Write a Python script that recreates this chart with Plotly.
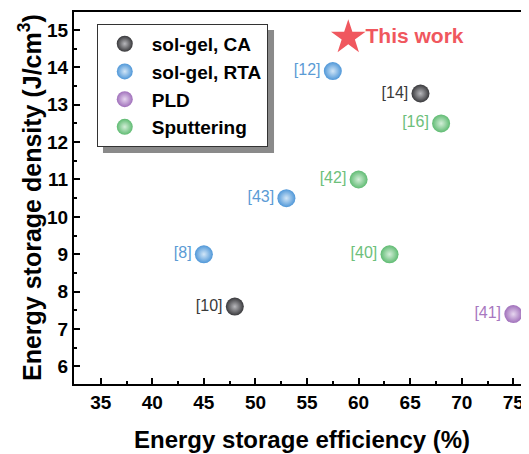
import plotly.graph_objects as go

# Data
ca_x = [66, 48]
ca_y = [13.3, 7.6]
ca_ref = ["[14]", "[10]"]

rta_x = [57.5, 53, 45]
rta_y = [13.9, 10.5, 9.0]
rta_ref = ["[12]", "[43]", "[8]"]

pld_x = [75]
pld_y = [7.4]
pld_ref = ["[41]"]

sput_x = [68, 60, 63]
sput_y = [12.5, 11.0, 9.0]
sput_ref = ["[16]", "[42]", "[40]"]

this_x = [59]
this_y = [14.8]

x_ticks = [35, 40, 45, 50, 55, 60, 65, 70, 75]
y_ticks = [6, 7, 8, 9, 10, 11, 12, 13, 14, 15]

FONT = "Liberation Sans, Arial, sans-serif"

series = [
    ("sol-gel, CA", ca_x, ca_y, ca_ref, "#38383b", "#b8b8bc", "#3a3a3a"),
    ("sol-gel, RTA", rta_x, rta_y, rta_ref, "#4f97d8", "#d2e6f7", "#5b9bd5"),
    ("PLD", pld_x, pld_y, pld_ref, "#a070bb", "#e6d6ef", "#a878c0"),
    ("Sputtering", sput_x, sput_y, sput_ref, "#5fbb72", "#d3eed8", "#6dbf7b"),
]

fig = go.Figure()
for name, xs, ys, refs, col, hi, tcol in series:
    fig.add_trace(go.Scatter(
        x=xs, y=ys, mode="markers+text", name=name,
        text=refs, textposition="middle left",
        textfont=dict(family=FONT, size=16, color=tcol),
        marker=dict(size=18, color=col, line=dict(width=0),
                    gradient=dict(type="radial", color=hi)),
    ))

fig.add_trace(go.Scatter(
    x=this_x, y=this_y, mode="markers+text", name="This work",
    text=["This work"], textposition="middle right",
    textfont=dict(family=FONT, size=21, color="#f0575e", weight="bold"),
    marker=dict(symbol="star", size=26, color="#f0575e", line=dict(width=0)),
    showlegend=False,
))

# legend shadow
fig.add_shape(type="rect", xref="paper", yref="paper",
              x0=0.0637, x1=0.4396, y0=0.6213, y1=0.9516,
              fillcolor="#8a8a8a", line=dict(width=0), layer="below")

# axis titles
fig.add_annotation(text="Energy storage efficiency (%)", xref="paper", yref="paper",
                   x=0.501, y=-0.1496, xanchor="center", yanchor="middle", showarrow=False,
                   font=dict(family=FONT, size=24, color="black", weight="bold"))
fig.add_annotation(text="Energy storage density (J/cm<sup>3</sup>)", xref="paper", yref="paper",
                   x=-0.0967, y=0.5, xanchor="center", yanchor="middle", showarrow=False,
                   textangle=-90,
                   font=dict(family=FONT, size=25, color="black", weight="bold"))

fig.update_layout(
    width=521, height=446,
    margin=dict(l=66, r=0, t=4, b=70),
    plot_bgcolor="white", paper_bgcolor="white",
    font=dict(family=FONT, color="black"),
    showlegend=True,
    legend=dict(x=0.05, y=0.968, xanchor="left", yanchor="top",
                bgcolor="white", bordercolor="#333", borderwidth=1,
                font=dict(family=FONT, size=19, color="black", weight="bold"),
                itemsizing="trace", itemwidth=44, tracegroupgap=0),
    xaxis=dict(range=[32.41, 76.52], tickvals=x_ticks, automargin=False,
               ticks="inside", ticklen=6, tickwidth=2, tickcolor="black",
               showline=True, linewidth=2, linecolor="black", mirror=True,
               showgrid=False, zeroline=False,
               tickfont=dict(family=FONT, size=19, color="black", weight="bold"),
               minor=dict(dtick=2.5, tick0=32.5, ticks="inside", ticklen=3, tickwidth=2, tickcolor="black")),
    yaxis=dict(range=[5.53, 15.48], tickvals=y_ticks, automargin=False,
               ticks="inside", ticklen=6, tickwidth=2, tickcolor="black",
               showline=True, linewidth=2, linecolor="black", mirror=False,
               showgrid=False, zeroline=False,
               tickfont=dict(family=FONT, size=19, color="black", weight="bold"),
               minor=dict(dtick=0.5, tick0=5.5, ticks="inside", ticklen=3, tickwidth=2, tickcolor="black")),
)

fig.write_html("out.html")
